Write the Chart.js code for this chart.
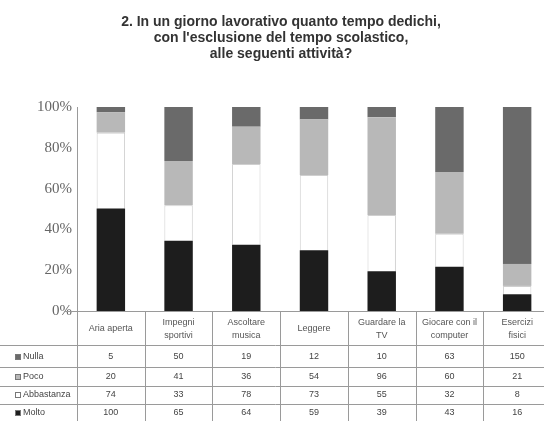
<!DOCTYPE html>
<html lang="it">
<head>
<meta charset="utf-8">
<title>Tempo libero</title>
<script src="https://cdn.jsdelivr.net/npm/chart.js@4"></script>
<style>
	html, body { margin: 0; padding: 0; background: #fff; overflow: hidden; }
	#wrap { width: 544px; height: 421px; overflow: hidden; }
</style>
</head>
<body>
<div id="wrap"><canvas id="tempoChart" width="552" height="421"></canvas></div>
<script>
/*
 * dati del questionario (numero di risposte)
 */
const categorie = [
	['Aria aperta'],
	['Impegni', 'sportivi'],
	['Ascoltare', 'musica'],
	['Leggere'],
	['Guardare la', 'TV'],
	['Giocare con il', 'computer'],
	['Esercizi', 'fisici']
];
const risposte = ['Nulla', 'Poco', 'Abbastanza', 'Molto'];
const nulla = [5, 50, 19, 12, 10, 63, 150];
const poco = [20, 41, 36, 54, 96, 60, 21];
const abbastanza = [74, 33, 78, 73, 55, 32, 8];
const molto = [100, 65, 64, 59, 39, 43, 16];
const tickPercentuali = [0, 20, 40, 60, 80, 100];
const titolo = [
	'2. In un giorno lavorativo quanto tempo dedichi,',
	"con l'esclusione del tempo scolastico,",
	'alle seguenti attività?'
];

const valori = { Nulla: nulla, Poco: poco, Abbastanza: abbastanza, Molto: molto };
const colori = { Nulla: '#6a6a6a', Poco: '#b8b8b8', Abbastanza: '#ffffff', Molto: '#1d1d1d' };

// totale per colonna -> percentuali (barre impilate al 100%)
const totali = categorie.map((c, i) => nulla[i] + poco[i] + abbastanza[i] + molto[i]);
const percentuale = serie => serie.map((v, i) => v / totali[i] * 100);

// ordine di impilamento: dal basso Molto, Abbastanza, Poco, Nulla
const ordine = ['Molto', 'Abbastanza', 'Poco', 'Nulla'];
const datasets = ordine.map(nome => ({
	label: nome,
	data: percentuale(valori[nome]),
	backgroundColor: colori[nome],
	borderColor: nome === 'Abbastanza' ? '#cfcfcf' : colori[nome],
	borderWidth: nome === 'Abbastanza' ? 1 : 0,
	categoryPercentage: 1,
	barPercentage: 0.42
}));

/*
 * titolo + tabella dati sotto il grafico
 */
const tabellaDati = {
	id: 'tabellaDati',
	afterDraw(chart) {
		const { ctx, chartArea } = chart;
		const x = chart.scales.x;
		const larg = (chartArea.right - chartArea.left) / categorie.length;
		const righe = [345, 367, 386, 404];
		const centri = [357, 377, 395, 413];

		const linea = (x0, y0, x1, y1) => {
			ctx.beginPath();
			ctx.moveTo(x0, y0);
			ctx.lineTo(x1, y1);
			ctx.stroke();
		};

		ctx.save();

		// titolo
		ctx.fillStyle = '#333';
		ctx.font = 'bold 14px "Liberation Sans", Arial, sans-serif';
		ctx.textAlign = 'center';
		ctx.textBaseline = 'middle';
		titolo.forEach((t, i) => ctx.fillText(t, 281, 22 + i * 16));

		// griglia della tabella
		ctx.strokeStyle = '#9a9a9a';
		ctx.lineWidth = 1;
		linea(chartArea.left - 12, chartArea.bottom + 0.5, chartArea.right, chartArea.bottom + 0.5);
		for (let k = 0; k <= categorie.length; k++) {
			const xx = Math.round(chartArea.left + k * larg) + 0.5;
			linea(xx, chartArea.bottom, xx, 421);
		}
		righe.forEach(y => linea(0, y + 0.5, chartArea.right, y + 0.5));

		// intestazioni di colonna
		ctx.fillStyle = '#555';
		ctx.font = '9px "Liberation Sans", Arial, sans-serif';
		categorie.forEach((c, i) => {
			const cx = x.getPixelForValue(i);
			if (c.length === 1) {
				ctx.fillText(c[0], cx, 329);
			} else {
				ctx.fillText(c[0], cx, 323);
				ctx.fillText(c[1], cx, 336);
			}
		});

		// righe: legenda + valori
		risposte.forEach((r, j) => {
			const y = centri[j];
			ctx.fillStyle = colori[r];
			ctx.fillRect(15, y - 3, 6, 6);
			ctx.strokeStyle = '#777';
			ctx.strokeRect(15.5, y - 2.5, 5, 5);
			ctx.fillStyle = '#444';
			ctx.textAlign = 'left';
			ctx.fillText(r, 23, y);
			ctx.textAlign = 'center';
			valori[r].forEach((v, i) => ctx.fillText(String(v), x.getPixelForValue(i), y));
		});

		ctx.restore();
	}
};

new Chart(document.getElementById('tempoChart'), {
	type: 'bar',
	data: {
		labels: categorie.map(c => c.join(' ')),
		datasets: datasets
	},
	options: {
		responsive: false,
		animation: false,
		devicePixelRatio: 1,
		layout: {
			padding: { top: 107, bottom: 110, left: 0, right: 1 }
		},
		plugins: {
			legend: { display: false },
			tooltip: { enabled: false }
		},
		scales: {
			x: {
				display: false,
				stacked: true
			},
			y: {
				stacked: true,
				min: 0,
				max: 100,
				afterFit: scale => { scale.width = 77; },
				afterBuildTicks: scale => {
					scale.ticks = tickPercentuali.map(v => ({ value: v }));
				},
				grid: { display: false, drawTicks: false },
				border: { display: true, color: '#9a9a9a' },
				ticks: {
					padding: 5,
					color: '#666',
					font: { family: '"Liberation Serif", serif', size: 15 },
					callback: value => value + '%'
				}
			}
		}
	},
	plugins: [tabellaDati]
});
</script>
</body>
</html>
